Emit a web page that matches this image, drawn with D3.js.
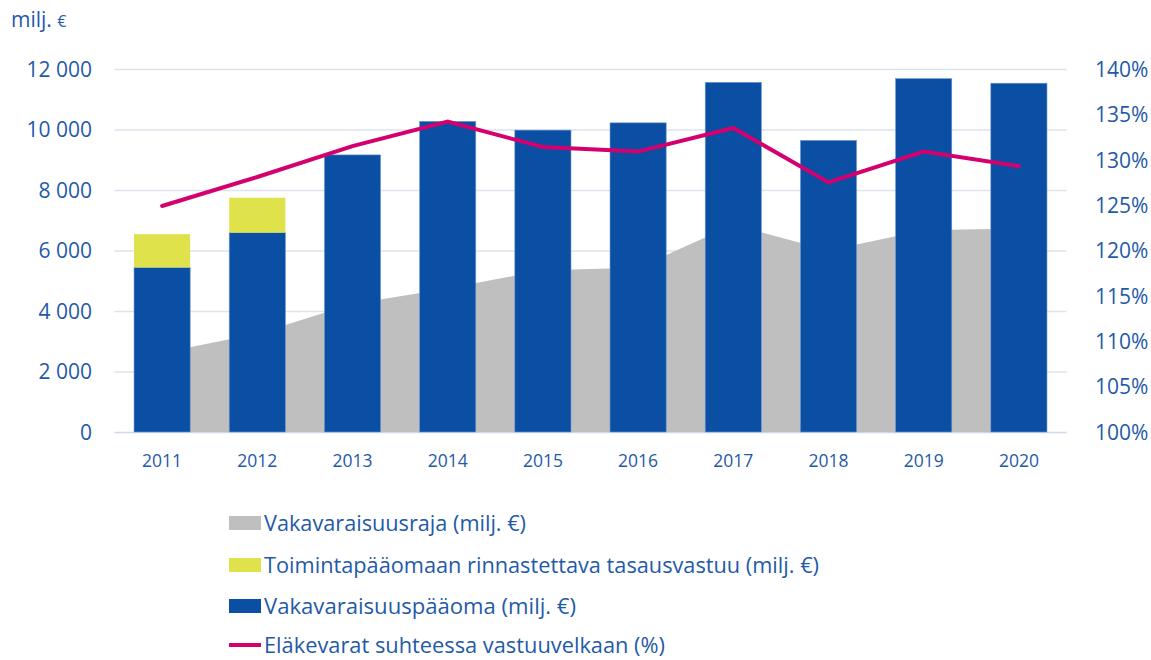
<!DOCTYPE html>
<html>
<head>
<meta charset="utf-8">
<script src="https://cdn.jsdelivr.net/npm/d3@7"></script>
<style>
  body { margin: 0; background: #fff; }
  text { font-family: "Open Sans", "Noto Sans", sans-serif; fill: #1f5aa8; }
</style>
</head>
<body>
<script>
var years = ['2011', '2012', '2013', '2014', '2015', '2016', '2017', '2018', '2019', '2020'];
var solvencyLimit = [2620, 3250, 4230, 4740, 5350, 5430, 6850, 6000, 6670, 6730];
var equalisation = [1100, 1155, 0, 0, 0, 0, 0, 0, 0, 0];
var solvencyCapital = [5440, 6590, 9160, 10270, 9980, 10220, 11560, 9640, 11680, 11530];
var fundsRatio = [124.9, 128.1, 131.5, 134.2, 131.4, 130.9, 133.5, 127.5, 130.9, 129.3];
var leftTicks = [0, 2000, 4000, 6000, 8000, 10000, 12000];
var rightTicks = [100, 105, 110, 115, 120, 125, 130, 135, 140];

var legendItems = [
  { label: 'Vakavaraisuusraja (milj. €)', color: '#bfbfbf', type: 'box' },
  { label: 'Toimintapääomaan rinnastettava tasausvastuu (milj. €)', color: '#dfe24b', type: 'box' },
  { label: 'Vakavaraisuuspääoma (milj. €)', color: '#0a4fa3', type: 'box' },
  { label: 'Eläkevarat suhteessa vastuuvelkaan (%)', color: '#d4006e', type: 'line' }
];

var width = 1151, height = 660;

var svg = d3.select('body').append('svg')
  .attr('width', width)
  .attr('height', height);

var x = d3.scaleBand()
  .domain(years)
  .range([114.5, 1066.5])
  .paddingInner(0.41)
  .paddingOuter(0.205);

var y = d3.scaleLinear().domain([0, 12000]).range([432, 69]);
var y2 = d3.scaleLinear().domain([100, 140]).range([432, 69]);

var cx = function(d, i) { return x(years[i]) + x.bandwidth() / 2; };

// gridlines
svg.append('g')
  .selectAll('line')
  .data(leftTicks)
  .enter().append('line')
  .attr('x1', 114.5)
  .attr('x2', 1066.5)
  .attr('y1', function(d) { return y(d) + 0.5; })
  .attr('y2', function(d) { return y(d) + 0.5; })
  .attr('stroke', function(d) { return d === 0 ? '#cfd8e8' : '#dde3ec'; })
  .attr('stroke-width', 1.5);

// gray area
var area = d3.area()
  .x(cx)
  .y0(y(0))
  .y1(function(d) { return y(d); });

svg.append('path')
  .datum(solvencyLimit)
  .attr('d', area)
  .attr('fill', '#bfbfbf');

// bars
var bars = svg.append('g');
bars.selectAll('rect.cap')
  .data(solvencyCapital)
  .enter().append('rect')
  .attr('class', 'cap')
  .attr('x', function(d, i) { return x(years[i]); })
  .attr('width', x.bandwidth())
  .attr('y', function(d) { return y(d); })
  .attr('height', function(d) { return y(0) - y(d); })
  .attr('fill', '#0a4fa3')
  .attr('stroke', '#6f98d4')
  .attr('stroke-width', 0.6);

bars.selectAll('rect.eq')
  .data(equalisation)
  .enter().append('rect')
  .filter(function(d) { return d > 0; })
  .attr('class', 'eq')
  .attr('x', function(d, i) { return x(years[i]); })
  .attr('width', x.bandwidth())
  .attr('y', function(d, i) { return y(solvencyCapital[i] + d); })
  .attr('height', function(d) { return y(0) - y(d); })
  .attr('fill', '#dfe24b');

// line
var line = d3.line()
  .x(cx)
  .y(function(d) { return y2(d); });

svg.append('path')
  .datum(fundsRatio)
  .attr('d', line)
  .attr('fill', 'none')
  .attr('stroke', '#d4006e')
  .attr('stroke-width', 4)
  .attr('stroke-linecap', 'round');

// left axis
var leftAxis = d3.axisLeft(y)
  .tickValues(leftTicks)
  .tickSize(0)
  .tickPadding(0)
  .tickFormat(function(d) { return d === 0 ? '0' : d3.format(',')(d).replace(',', ' '); });

var gl = svg.append('g')
  .attr('transform', 'translate(92,0)')
  .call(leftAxis);
gl.select('.domain').remove();
gl.selectAll('text')
  .attr('font-size', 21)
  .attr('dy', '0.35em');

// right axis
var rightAxis = d3.axisRight(y2)
  .tickValues(rightTicks)
  .tickSize(0)
  .tickPadding(0)
  .tickFormat(function(d) { return d + '%'; });

var gr = svg.append('g')
  .attr('transform', 'translate(1095,0)')
  .call(rightAxis);
gr.select('.domain').remove();
gr.selectAll('text')
  .attr('font-size', 21)
  .attr('dy', '0.35em');

// bottom axis
var bottomAxis = d3.axisBottom(x).tickSize(0).tickPadding(0);
var gb = svg.append('g')
  .attr('transform', 'translate(0,455)')
  .call(bottomAxis);
gb.select('.domain').remove();
gb.selectAll('text')
  .attr('font-size', 17.5)
  .attr('dy', '0.71em');

// unit label
var unit = svg.append('text')
  .attr('x', 11)
  .attr('y', 27)
  .attr('font-size', 21)
  .text('milj. ');
unit.append('tspan')
  .attr('font-size', 16)
  .text('€');

// legend
var legend = svg.append('g')
  .selectAll('g')
  .data(legendItems)
  .enter().append('g')
  .attr('transform', function(d, i) { return 'translate(229,' + [523, 565, 606, 645][i] + ')'; });

legend.filter(function(d) { return d.type === 'box'; })
  .append('rect')
  .attr('x', 0)
  .attr('y', -7)
  .attr('width', 32)
  .attr('height', 14)
  .attr('fill', function(d) { return d.color; });

legend.filter(function(d) { return d.type === 'line'; })
  .append('line')
  .attr('x1', 0)
  .attr('x2', 32)
  .attr('y1', 0)
  .attr('y2', 0)
  .attr('stroke', function(d) { return d.color; })
  .attr('stroke-width', 4);

legend.append('text')
  .attr('x', 35)
  .attr('y', 0)
  .attr('dy', '0.35em')
  .attr('font-size', 21.5)
  .attr('textLength', function(d, i) { return [262, 555, 312, 401][i]; })
  .attr('lengthAdjust', 'spacingAndGlyphs')
  .text(function(d) { return d.label; });
</script>
</body>
</html>
